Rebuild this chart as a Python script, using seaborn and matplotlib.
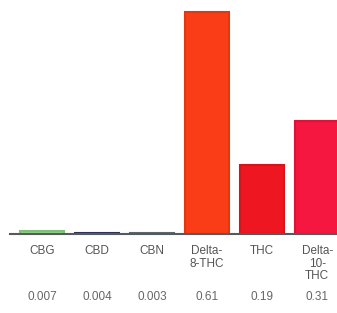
import matplotlib
matplotlib.use("Agg")
import matplotlib.pyplot as plt
import matplotlib.transforms as mtransforms
import pandas as pd
import seaborn as sns

categories = ["CBG", "CBD", "CBN", "Delta-8-THC", "THC", "Delta-10-THC"]
tick_labels = ["CBG", "CBD", "CBN", "Delta-\n8-THC", "THC", "Delta-\n10-\nTHC"]
values = [0.007, 0.004, 0.003, 0.61, 0.19, 0.31]
value_labels = ["0.007", "0.004", "0.003", "0.61", "0.19", "0.31"]
colors = ["#93d18b", "#3b3f6e", "#6f7d80", "#fb3d17", "#ee1620", "#f5173f"]
edges = ["#7fbf77", "#2d3158", "#5c686b", "#e0380f", "#d8131c", "#dc1338"]

sns.set_theme(style="white")
plt.rcParams["font.family"] = ["Liberation Sans", "DejaVu Sans"]

df = pd.DataFrame({"cat": categories, "val": values})

fig = plt.figure(figsize=(3.37, 3.13), dpi=100)
ax = fig.add_axes([10 / 337, 79 / 313, 327 / 337, 234 / 313])

sns.barplot(data=df, x="cat", y="val", hue="cat", palette=dict(zip(categories, colors)),
            order=categories, width=0.8, saturation=1, legend=False, ax=ax)
for patch, ec in zip(ax.patches, edges):
    patch.set_edgecolor(ec)
    patch.set_linewidth(1.5)

ax.set_xlim(-0.58, 5.36)
ax.set_ylim(0, 0.643)
ax.set_yticks([])
ax.set_xlabel("")
ax.set_ylabel("")
for side in ["top", "right", "left"]:
    ax.spines[side].set_visible(False)
ax.spines["bottom"].set_color("#555a5e")
ax.spines["bottom"].set_linewidth(1.5)

ax.set_xticks(range(len(categories)))
ax.set_xticklabels(tick_labels, fontsize=8.5, color="#555555", linespacing=1.05, va="top")
ax.tick_params(axis="x", length=0, pad=8)

trans = mtransforms.blended_transform_factory(ax.transData, fig.transFigure)
for i, lab in enumerate(value_labels):
    ax.text(i, 1 - 297 / 313, lab, transform=trans, ha="center", va="center",
            fontsize=8.5, color="#666666")

fig.savefig("out.png", dpi=100)
